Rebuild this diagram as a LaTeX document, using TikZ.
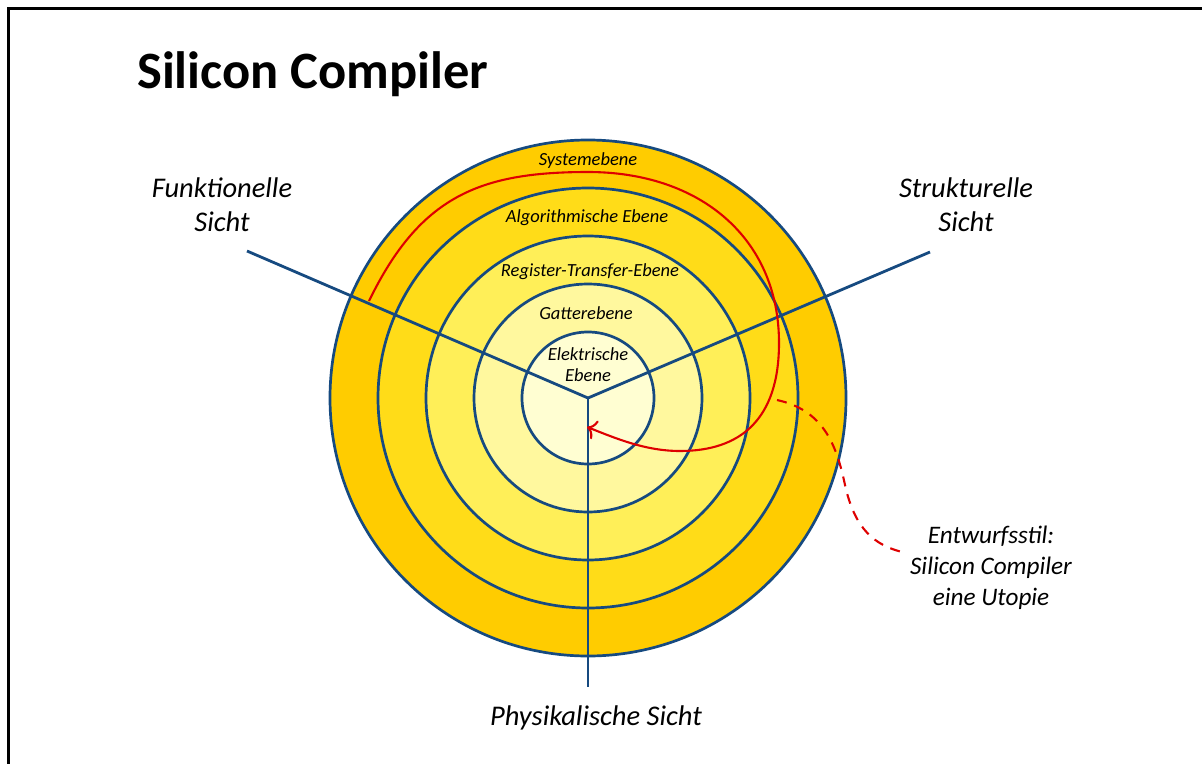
\documentclass[tikz,border=0pt]{standalone}
\usepackage{fontspec}
\setmainfont{Carlito}
\usetikzlibrary{arrows.meta}
\definecolor{ringA}{RGB}{255,204,0}
\definecolor{ringB}{RGB}{255,220,24}
\definecolor{ringC}{RGB}{255,239,88}
\definecolor{ringD}{RGB}{255,248,158}
\definecolor{ringE}{RGB}{255,254,210}
\definecolor{viewblue}{RGB}{22,74,128}
\definecolor{flowred}{RGB}{222,0,0}
\tikzset{
  ring/.style={circle, draw=viewblue, line width=2.7pt, inner sep=0pt},
  axis/.style={draw=viewblue, line width=2.8pt},
  levellabel/.style={font=\itshape\fontsize{18.5}{21}\selectfont, align=center, inner sep=0pt},
  viewlabel/.style={font=\itshape\fontsize{28.5}{34}\selectfont, align=center, inner sep=0pt},
  notelabel/.style={font=\itshape\fontsize{25.2}{31}\selectfont, align=center, inner sep=0pt},
  flow/.style={draw=flowred, line width=2.1pt},
}
\begin{document}
\begin{tikzpicture}[x=1pt, y=-1pt]
\useasboundingbox (0,0) rectangle (1202,763);
% frame
\draw[line width=3pt] (8,770) -- (8,8) -- (1210,8);

% title
\node[anchor=base west, inner sep=0pt, font=\bfseries\fontsize{52.5}{60}\selectfont] (title) at (137,88) {Silicon Compiler};

% concentric design levels
\coordinate (o) at (588,398);
\node[ring, fill=ringA, minimum size=516pt] (sys) at (o) {};
\node[ring, fill=ringB, minimum size=420pt] (alg) at (o) {};
\node[ring, fill=ringC, minimum size=324pt] (rtl) at (o) {};
\node[ring, fill=ringD, minimum size=228pt] (gate) at (o) {};
\node[ring, fill=ringE, minimum size=132pt] (elec) at (o) {};

% the three views
\coordinate (fend) at (247,251);
\coordinate (send) at (930,252);
\coordinate (pend) at (588,687);
\draw[axis] (fend) -- (o);
\draw[axis] (send) -- (o);
\draw[axis] (o) -- (pend);

% level names
\node[levellabel] (l1) at (588,160.5) {Systemebene};
\node[levellabel] (l2) at (587,217.5) {Algorithmische Ebene};
\node[levellabel] (l3) at (590,271.5) {Register-Transfer-Ebene};
\node[levellabel] (l4) at (586,313.5) {Gatterebene};
\node[levellabel] (l5) at (588,365) {Elektrische\\Ebene};

% view names
\node[viewlabel] (vf) at (222,205) {Funktionelle\\Sicht};
\node[viewlabel] (vs) at (966,205) {Strukturelle\\Sicht};
\node[viewlabel] (vp) at (596,718) {Physikalische Sicht};

% design style path
\coordinate (pstart) at (369,301);
\coordinate (ptop) at (588,172);
\coordinate (pright) at (779,343);
\coordinate (pbottom) at (680,451);
\coordinate (ptip) at (587,427);
\draw[flow, -{Computer Modern Rightarrow[length=9pt, width=20pt]}]
  (pstart) .. controls (420,196) and (480,172) .. (ptop)
  .. controls (700,172) and (779,238) .. (pright)
  .. controls (779,420) and (740,451) .. (pbottom)
  .. controls (645,451) and (615,438) .. (ptip);

% annotation
\node[notelabel] (note) at (991,568) {Entwurfsstil:\\Silicon Compiler\\eine Utopie};
\coordinate (dstart) at (777,400);
\coordinate (dend) at (902,552);
\draw[flow, dash pattern=on 10pt off 8pt]
  (dstart) .. controls (822,410) and (836,442) .. (845,485)
  .. controls (855,530) and (875,545) .. (dend);
\end{tikzpicture}
\end{document}
